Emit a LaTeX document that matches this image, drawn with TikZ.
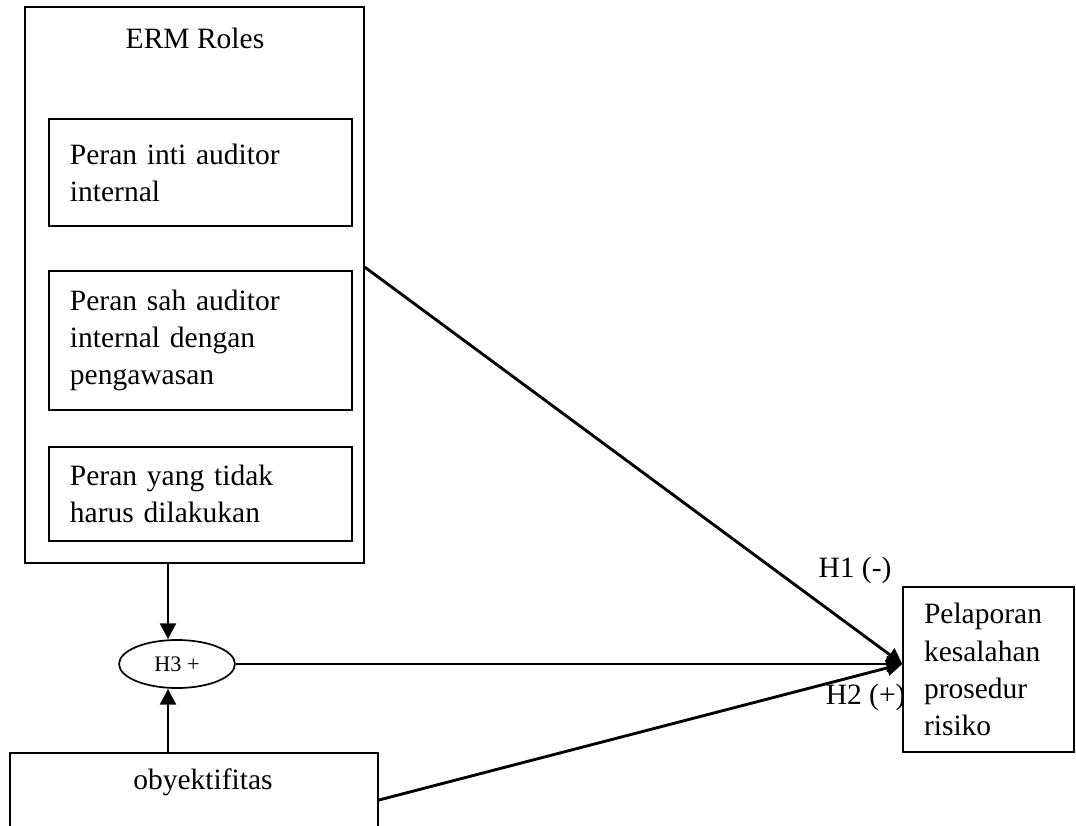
\documentclass[tikz,border=0pt]{standalone}
\usepackage{fontspec}
\setmainfont{Liberation Serif}
\usetikzlibrary{arrows.meta,positioning,calc,shapes.geometric}
\tikzset{
  box/.style={draw=black, line width=0.65pt, fill=white, align=left, inner xsep=8pt,
              font=\fontsize{11.3}{14.2}\selectfont},
  role/.style={box, text width=100pt},
  mod/.style={draw=black, line width=0.65pt, ellipse, minimum width=44.4pt,
              minimum height=18.4pt, inner sep=0pt, font=\fontsize{8.5}{10}\selectfont},
  arr/.style={-{Triangle[length=6pt,width=6pt]}, line width=1.1pt},
  lbl/.style={font=\fontsize{11.3}{14.2}\selectfont, inner sep=0pt},
}

\begin{document}
\begin{tikzpicture}[x=0.383pt, y=-0.383pt]
  \useasboundingbox (0,0) rectangle (1076,825);
  % ERM roles
  \node[box, minimum width=129.8pt, minimum height=212.9pt] (erm) at (194.5,285) {};
  \node[lbl] (ermt) at (195,38) {ERM Roles};
  \node[role, minimum height=41pt] (r1) at (200.5,172.5) {Peran inti auditor\\internal};
  \node[role, minimum height=53.2pt] (r2) at (200.5,340.5) {Peran sah auditor\\internal dengan\\pengawasan};
  \node[role, minimum height=36pt] (r3) at (200.5,494) {Peran yang tidak\\harus dilakukan};

  % moderator
  \node[mod] (h3) at (177,664) {H3 +};

  % obyektifitas
  \node[box, minimum width=141pt, minimum height=36pt] (obj) at (194,800) {};
  \node[lbl] (objt) at (203,782) {obyektifitas};

  % outcome
  \node[lbl] (h1) at (855,570) {H1 (-)};
  \node[lbl, anchor=east] (h2) at (906,697) {H2 (+)};
  \node[box, text width=49.4pt, minimum height=63.2pt] (res) at (988.5,669.5) {Pelaporan\\kesalahan\\prosedur\\risiko};

  \coordinate (vx) at (168,0);
  \coordinate (tip) at (res.west |- h3);
  \draw[arr] (erm.south -| vx) -- (h3.north -| vx);
  \draw[arr] (obj.north -| vx) -- (h3.south -| vx);
  \draw[arr] ($(erm.north east)!0.468!(erm.south east)$) -- (tip);
  \draw[arr] (h3) -- (tip);
  \draw[arr] (obj.east) -- (tip);
\end{tikzpicture}
\end{document}
